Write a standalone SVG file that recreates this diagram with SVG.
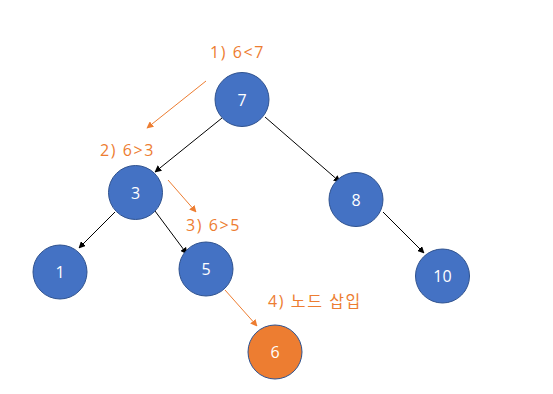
<svg xmlns="http://www.w3.org/2000/svg" width="553" height="394" viewBox="0 0 553 394">
<defs>
<marker id="ab" viewBox="0 0 10 10" refX="9" refY="5" markerWidth="7" markerHeight="7" orient="auto" markerUnits="userSpaceOnUse"><path d="M0,0 L10,5 L0,10 z" fill="#000"/></marker>
<marker id="ao" viewBox="0 0 10 10" refX="9" refY="5" markerWidth="7" markerHeight="7" orient="auto" markerUnits="userSpaceOnUse"><path d="M0,0 L10,5 L0,10 z" fill="#ED7D31"/></marker>
<style>
.n{fill:#4472C4;stroke:#2F528F;stroke-width:1}
.o{fill:#ED7D31;stroke:#2F528F;stroke-width:1}
.t{fill:#fff;font-family:"Open Sans","Noto Sans CJK KR",sans-serif;font-size:16px;text-anchor:middle;dominant-baseline:central}
.l{fill:#ED7D31;font-family:"Open Sans","Noto Sans CJK KR",sans-serif;font-size:16px;letter-spacing:1.6px}
.e{stroke:#000;stroke-width:1;fill:none;marker-end:url(#ab)}
.eo{stroke:#ED7D31;stroke-width:1;fill:none;marker-end:url(#ao)}
</style>
</defs>
<g id="connectors">
<line class="e" x1="222" y1="118" x2="155" y2="172"/>
<line class="e" x1="265" y1="117" x2="340" y2="182"/>
<line class="e" x1="115" y1="212" x2="79" y2="248"/>
<line class="e" x1="155" y1="211" x2="187" y2="254"/>
<line class="e" x1="383" y1="212" x2="424" y2="253"/>
<line class="eo" x1="225" y1="290" x2="257" y2="326"/>
<line class="eo" x1="206" y1="81" x2="147" y2="128"/>
<line class="eo" x1="168" y1="180" x2="196" y2="212"/>
</g>
<g id="node7"><circle class="n" cx="242" cy="99.5" r="27"/><text class="t" x="242" y="99.5">7</text></g>
<g id="node3"><circle class="n" cx="135.5" cy="192.5" r="27"/><text class="t" x="135.5" y="192.5">3</text></g>
<g id="node8"><circle class="n" cx="356" cy="199.5" r="27"/><text class="t" x="356" y="199.5">8</text></g>
<g id="node1"><circle class="n" cx="60" cy="272" r="27"/><text class="t" x="60" y="272">1</text></g>
<g id="node5"><circle class="n" cx="206" cy="269" r="27"/><text class="t" x="206" y="269">5</text></g>
<g id="node10"><circle class="n" cx="442.5" cy="276" r="27"/><text class="t" x="442.5" y="276">10</text></g>
<g id="node6"><circle class="o" cx="275" cy="352" r="27"/><text class="t" x="275" y="352">6</text></g>
<g id="labels">
<text class="l" x="210" y="58">1) 6&lt;7</text>
<text class="l" x="100" y="156">2) 6&gt;3</text>
<text class="l" x="186" y="231">3) 6&gt;5</text>
<text class="l" x="268" y="307">4) 노드 삽입</text>
</g>
</svg>
